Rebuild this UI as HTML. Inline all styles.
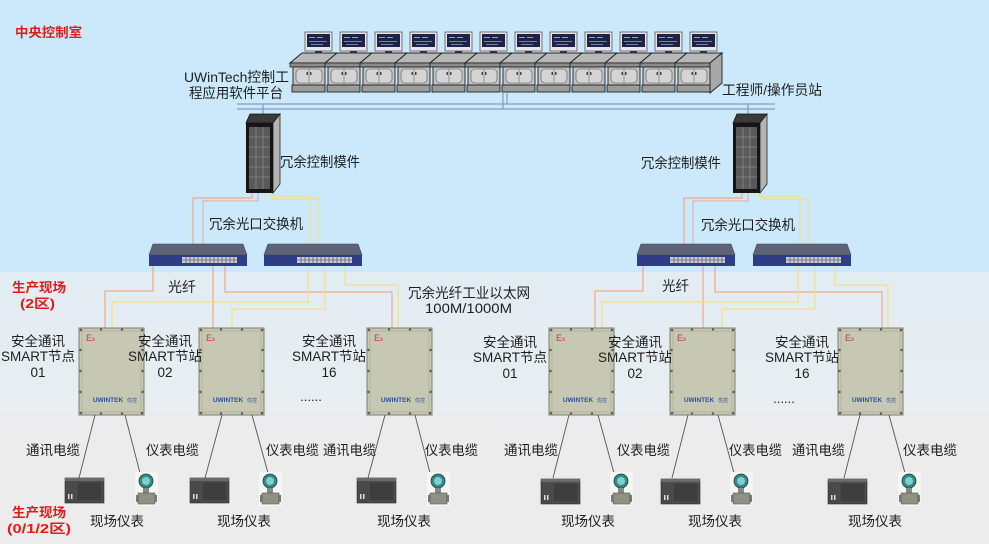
<!DOCTYPE html>
<html><head><meta charset="utf-8">
<style>
html,body{margin:0;padding:0;width:989px;height:544px;overflow:hidden;background:#ececec}
svg{display:block}
text{font-family:"Liberation Sans","Noto Sans CJK SC",sans-serif;fill:#1e1e1e}
.red{fill:#e21a1a;font-weight:bold}
</style></head><body>
<svg width="989" height="544" viewBox="0 0 989 544" xmlns="http://www.w3.org/2000/svg">
<defs>
<linearGradient id="bgm" x1="0" y1="0" x2="0" y2="1">
<stop offset="0" stop-color="#e2ecf3"/><stop offset="0.85" stop-color="#e8eef2"/><stop offset="1" stop-color="#ececec"/>
</linearGradient>
<g id="con">
<polygon points="12,53 47,53 35,63 0,63" fill="#b8b8b8" stroke="#222" stroke-width="1"/>
<rect x="0" y="63" width="35" height="4" fill="#8c8c8c" stroke="#222" stroke-width="0.8"/>
<rect x="3" y="67" width="32" height="18" fill="#c2c2c2" stroke="#222" stroke-width="0.9"/>
<rect x="6" y="69" width="26" height="14" rx="4" fill="#d4d4d4" stroke="#555" stroke-width="0.6"/>
<line x1="19" y1="69" x2="19" y2="83" stroke="#666" stroke-width="0.6"/>
<rect x="16.5" y="72" width="1.5" height="3" fill="#444"/><rect x="20" y="72" width="1.5" height="3" fill="#444"/>
<rect x="2" y="85" width="33" height="7" fill="#9c9c9c" stroke="#222" stroke-width="0.9"/>
<rect x="15" y="32" width="27" height="19" fill="#e6e6ee" stroke="#555" stroke-width="0.8"/>
<rect x="17" y="34" width="23" height="13" fill="#1e2244"/>
<rect x="19" y="37" width="6" height="1" fill="#8fa0d0"/><rect x="27" y="37" width="6" height="1" fill="#8fa0d0"/>
<rect x="19" y="41" width="18" height="1" fill="#7080b0"/><rect x="21" y="44" width="12" height="1" fill="#7080b0"/>
<rect x="25" y="51" width="7" height="2.5" fill="#333"/>
</g>
<g id="cab">
<polygon points="1,10 5,1 35,1 28,10" fill="#3a3a3a" stroke="#111" stroke-width="0.8"/>
<polygon points="28,10 35,1 35,71 28,80" fill="#b4b4b4" stroke="#222" stroke-width="0.8"/>
<rect x="1" y="10" width="27" height="70" fill="#151515"/>
<rect x="4" y="14" width="21" height="62" fill="#5a5a5a"/>
<g stroke="#888" stroke-width="0.8">
<line x1="11" y1="14" x2="11" y2="76"/><line x1="18" y1="14" x2="18" y2="76"/>
<line x1="4" y1="24" x2="25" y2="24"/><line x1="4" y1="34" x2="25" y2="34"/><line x1="4" y1="44" x2="25" y2="44"/><line x1="4" y1="54" x2="25" y2="54"/><line x1="4" y1="64" x2="25" y2="64"/>
</g>
</g>
<g id="sw">
<polygon points="4,0 94,0 98,11 0,11" fill="#5d6478" stroke="#3c4256" stroke-width="0.6"/>
<rect x="0" y="11" width="98" height="11" fill="#2e3d85"/>
<rect x="33" y="13" width="55" height="6" fill="#c9cad2"/>
<g stroke="#3a3f55" stroke-width="0.6">
<line x1="33" y1="16" x2="88" y2="16"/>
<line x1="37" y1="13" x2="37" y2="19"/><line x1="41" y1="13" x2="41" y2="19"/><line x1="45" y1="13" x2="45" y2="19"/><line x1="49" y1="13" x2="49" y2="19"/><line x1="53" y1="13" x2="53" y2="19"/><line x1="57" y1="13" x2="57" y2="19"/><line x1="61" y1="13" x2="61" y2="19"/><line x1="65" y1="13" x2="65" y2="19"/><line x1="69" y1="13" x2="69" y2="19"/><line x1="73" y1="13" x2="73" y2="19"/><line x1="77" y1="13" x2="77" y2="19"/><line x1="81" y1="13" x2="81" y2="19"/><line x1="85" y1="13" x2="85" y2="19"/>
</g>
</g>
<g id="node">
<rect x="0" y="0" width="65" height="87" fill="#c6c8b4" stroke="#7c7d6c" stroke-width="1"/>
<rect x="3" y="3" width="59" height="81" fill="none" stroke="#aeb09c" stroke-width="0.8"/>
<g fill="#5e5e52">
<circle cx="2" cy="2" r="1.3"/><circle cx="22" cy="1.5" r="1.2"/><circle cx="43" cy="1.5" r="1.2"/><circle cx="63" cy="2" r="1.3"/>
<circle cx="2" cy="85" r="1.3"/><circle cx="22" cy="85.5" r="1.2"/><circle cx="43" cy="85.5" r="1.2"/><circle cx="63" cy="85" r="1.3"/>
<circle cx="1.5" cy="22" r="1.2"/><circle cx="1.5" cy="43" r="1.2"/><circle cx="1.5" cy="64" r="1.2"/>
<circle cx="63.5" cy="22" r="1.2"/><circle cx="63.5" cy="43" r="1.2"/><circle cx="63.5" cy="64" r="1.2"/>
</g>
<text x="7" y="13" font-size="9" style="fill:#c23a3a">E<tspan font-size="6">x</tspan></text>
<text x="29" y="74" font-size="6.5" font-weight="bold" text-anchor="middle" style="fill:#2b50a0">UWINTEK</text>
<text x="48" y="74" font-size="5" style="fill:#2b50a0">优控</text>
</g>
<g id="plc">
<rect x="0" y="0" width="39" height="25" fill="#4a4a4a" stroke="#2a2a2a" stroke-width="0.6"/>
<rect x="0" y="0" width="39" height="3" fill="#6a6a6a"/>
<rect x="12" y="4" width="25" height="19" fill="#3e3e3e" stroke="#5a5a5a" stroke-width="0.6"/>
<rect x="3" y="16" width="1.5" height="5" fill="#ddd"/><rect x="6" y="16" width="1.5" height="5" fill="#ddd"/>
</g>
<g id="ins">
<rect x="0" y="0" width="23" height="34" fill="#f4f6f4"/>
<circle cx="11" cy="9" r="7" fill="#2f8c8a" stroke="#2a3a3a" stroke-width="0.8"/>
<circle cx="11" cy="9" r="4" fill="#7fd0cc"/>
<rect x="8" y="16" width="6" height="5" fill="#888"/>
<rect x="3" y="21" width="17" height="11" fill="#8f9282" stroke="#555" stroke-width="0.6"/>
<rect x="1" y="23" width="3" height="7" fill="#777"/><rect x="19" y="23" width="3" height="7" fill="#777"/>
</g>
</defs>

<!-- backgrounds -->
<rect x="0" y="0" width="989" height="272" fill="#cbe9fa"/>
<rect x="0" y="272" width="989" height="156" fill="url(#bgm)"/>
<rect x="0" y="428" width="989" height="116" fill="#ececec"/>

<!-- consoles -->
<use href="#con" x="290"/><use href="#con" x="325"/><use href="#con" x="360"/><use href="#con" x="395"/>
<use href="#con" x="430"/><use href="#con" x="465"/><use href="#con" x="500"/><use href="#con" x="535"/>
<use href="#con" x="570"/><use href="#con" x="605"/><use href="#con" x="640"/><use href="#con" x="675"/>
<polygon points="710,63 722,53 722,83 710,93" fill="#a8a8a8" stroke="#222" stroke-width="0.9"/>

<!-- bus -->
<g stroke="#7f9fba" stroke-width="1.2" fill="none">
<line x1="237" y1="104" x2="775" y2="104"/>
<line x1="237" y1="109" x2="775" y2="109"/>
<line x1="503" y1="93" x2="503" y2="109"/><line x1="507" y1="93" x2="507" y2="104"/>
<line x1="263" y1="104" x2="263" y2="114"/><line x1="748" y1="104" x2="748" y2="114"/>
</g>

<!-- cabinets -->
<use href="#cab" x="245" y="113"/>
<use href="#cab" x="732" y="113"/>

<!-- cabinet to switch connectors -->
<g fill="none" stroke-width="1.2">
<path d="M252,193 V198 H193 V245" stroke="#f2a889"/>
<path d="M258,193 V201 H203 V245" stroke="#d6b8b0"/>
<path d="M266,193 V196 H310 V245" stroke="#f4de84"/>
<path d="M272,193 V199 H318 V245" stroke="#f4de84"/>
<path d="M742,193 V198 H684 V245" stroke="#f2a889"/>
<path d="M748,193 V201 H693 V245" stroke="#d6b8b0"/>
<path d="M756,193 V196 H800 V245" stroke="#f4de84"/>
<path d="M762,193 V199 H808 V245" stroke="#f4de84"/>
</g>

<!-- switch to node connectors -->
<g fill="none" stroke-width="1.2">
<path d="M153,266 V291 H105 V328" stroke="#f2a889"/>
<path d="M213,266 V328" stroke="#f2a889"/>
<path d="M225,266 V292 H392 V328" stroke="#f2a889"/>
<path d="M308,266 V302 H112 V328" stroke="#f4de84"/>
<path d="M325,266 V309 H232 V328" stroke="#f4de84"/>
<path d="M345,266 V285 H398 V328" stroke="#f4de84"/>
<path d="M643,266 V291 H595 V328" stroke="#f2a889"/>
<path d="M703,266 V328" stroke="#f2a889"/>
<path d="M715,266 V292 H882 V328" stroke="#f2a889"/>
<path d="M798,266 V302 H602 V328" stroke="#f4de84"/>
<path d="M815,266 V309 H722 V328" stroke="#f4de84"/>
<path d="M835,266 V285 H888 V328" stroke="#f4de84"/>
</g>

<!-- switches -->
<use href="#sw" x="149" y="244"/><use href="#sw" x="264" y="244"/>
<use href="#sw" x="637" y="244"/><use href="#sw" x="753" y="244"/>

<!-- nodes -->
<use href="#node" x="79" y="328"/><use href="#node" x="199" y="328"/><use href="#node" x="367" y="328"/>
<use href="#node" x="549" y="328"/><use href="#node" x="670" y="328"/><use href="#node" x="838" y="328"/>

<!-- bottom cables -->
<g stroke="#555" stroke-width="0.9">
<line x1="95" y1="415" x2="79" y2="478"/><line x1="125" y1="415" x2="140" y2="473"/>
<line x1="222" y1="415" x2="205" y2="478"/><line x1="252" y1="415" x2="268" y2="473"/>
<line x1="385" y1="415" x2="368" y2="478"/><line x1="415" y1="415" x2="430" y2="473"/>
<line x1="569" y1="415" x2="553" y2="478"/><line x1="598" y1="415" x2="614" y2="473"/>
<line x1="688" y1="415" x2="672" y2="478"/><line x1="718" y1="415" x2="734" y2="473"/>
<line x1="860" y1="415" x2="844" y2="478"/><line x1="889" y1="415" x2="905" y2="473"/>
</g>

<!-- field devices -->
<use href="#plc" x="65" y="478"/><use href="#plc" x="190" y="478"/><use href="#plc" x="357" y="478"/>
<use href="#plc" x="541" y="479"/><use href="#plc" x="661" y="479"/><use href="#plc" x="828" y="479"/>
<use href="#ins" x="135" y="472"/><use href="#ins" x="259" y="472"/><use href="#ins" x="427" y="472"/>
<use href="#ins" x="610" y="472"/><use href="#ins" x="730" y="472"/><use href="#ins" x="898" y="472"/>

<!-- red zone labels -->
<text class="red" x="15" y="37" font-size="13" textLength="67" lengthAdjust="spacingAndGlyphs">中央控制室</text>
<text class="red" x="12" y="292" font-size="13" textLength="54" lengthAdjust="spacingAndGlyphs">生产现场</text>
<text class="red" x="20" y="308" font-size="13" textLength="35" lengthAdjust="spacingAndGlyphs">(2区)</text>
<text class="red" x="12" y="517" font-size="13" textLength="54" lengthAdjust="spacingAndGlyphs">生产现场</text>
<text class="red" x="7" y="533" font-size="13" textLength="64" lengthAdjust="spacingAndGlyphs">(0/1/2区)</text>

<!-- top labels -->
<g font-size="14">
<text x="184" y="82" textLength="105" lengthAdjust="spacingAndGlyphs">UWinTech控制工</text>
<text x="189" y="98" textLength="94" lengthAdjust="spacingAndGlyphs">程应用软件平台</text>
<text x="722" y="95" textLength="100" lengthAdjust="spacingAndGlyphs">工程师/操作员站</text>
<text x="280" y="167" textLength="80" lengthAdjust="spacingAndGlyphs">冗余控制模件</text>
<text x="641" y="168" textLength="80" lengthAdjust="spacingAndGlyphs">冗余控制模件</text>
<text x="209" y="229" textLength="94" lengthAdjust="spacingAndGlyphs">冗余光口交换机</text>
<text x="701" y="230" textLength="94" lengthAdjust="spacingAndGlyphs">冗余光口交换机</text>
<text x="168" y="292" textLength="28" lengthAdjust="spacingAndGlyphs">光纤</text>
<text x="662" y="291" textLength="27" lengthAdjust="spacingAndGlyphs">光纤</text>
<text x="408" y="298" textLength="122" lengthAdjust="spacingAndGlyphs">冗余光纤工业以太网</text>
<text x="425" y="313" textLength="87" lengthAdjust="spacingAndGlyphs">100M/1000M</text>
</g>

<!-- node labels -->
<g font-size="13.5" text-anchor="middle">
<text x="38" y="346">安全通讯</text><text x="38" y="361">SMART节点</text><text x="38" y="377">01</text>
<text x="165" y="346">安全通讯</text><text x="165" y="361">SMART节站</text><text x="165" y="377">02</text>
<text x="329" y="346">安全通讯</text><text x="329" y="361">SMART节站</text><text x="329" y="377">16</text>
<text x="510" y="347">安全通讯</text><text x="510" y="362">SMART节点</text><text x="510" y="378">01</text>
<text x="635" y="347">安全通讯</text><text x="635" y="362">SMART节站</text><text x="635" y="378">02</text>
<text x="802" y="347">安全通讯</text><text x="802" y="362">SMART节站</text><text x="802" y="378">16</text>
<text x="311" y="401" font-size="13">......</text>
<text x="784" y="403" font-size="13">......</text>
</g>

<!-- cable labels -->
<g font-size="13.5">
<text x="26" y="455" textLength="54" lengthAdjust="spacingAndGlyphs">通讯电缆</text>
<text x="146" y="455" textLength="53" lengthAdjust="spacingAndGlyphs">仪表电缆</text>
<text x="266" y="455" textLength="53" lengthAdjust="spacingAndGlyphs">仪表电缆</text>
<text x="323" y="455" textLength="53" lengthAdjust="spacingAndGlyphs">通讯电缆</text>
<text x="425" y="455" textLength="53" lengthAdjust="spacingAndGlyphs">仪表电缆</text>
<text x="504" y="455" textLength="54" lengthAdjust="spacingAndGlyphs">通讯电缆</text>
<text x="617" y="455" textLength="53" lengthAdjust="spacingAndGlyphs">仪表电缆</text>
<text x="729" y="455" textLength="53" lengthAdjust="spacingAndGlyphs">仪表电缆</text>
<text x="792" y="455" textLength="53" lengthAdjust="spacingAndGlyphs">通讯电缆</text>
<text x="903" y="455" textLength="54" lengthAdjust="spacingAndGlyphs">仪表电缆</text>
</g>

<!-- field instrument labels -->
<g font-size="13.5" text-anchor="middle">
<text x="117" y="526">现场仪表</text>
<text x="244" y="526">现场仪表</text>
<text x="404" y="526">现场仪表</text>
<text x="588" y="526">现场仪表</text>
<text x="715" y="526">现场仪表</text>
<text x="875" y="526">现场仪表</text>
</g>
</svg>
</body></html>
